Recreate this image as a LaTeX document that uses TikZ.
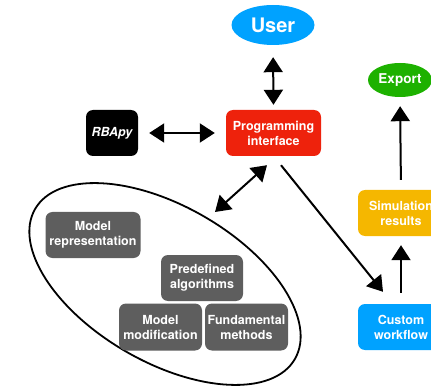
\documentclass[tikz,border=0pt]{standalone}
\usepackage{fontspec}
\setmainfont{TeX Gyre Heros}
\usetikzlibrary{arrows.meta,positioning,shapes.geometric}
\definecolor{userblue}{HTML}{00A2FF}
\definecolor{exportgreen}{HTML}{1DB100}
\definecolor{apired}{HTML}{EE220C}
\definecolor{simyellow}{HTML}{F5B700}
\definecolor{modgray}{HTML}{5E5E5E}

\begin{document}
\begin{tikzpicture}[x=1pt, y=1pt,
    box/.style={rounded corners=7pt, text=white, align=center, inner sep=1pt,
      minimum height=46pt, font=\bfseries\fontsize{12.5}{15}\selectfont},
    modbox/.style={box, fill=modgray},
    blob/.style={ellipse, text=white, inner sep=0pt},
    link/.style={line width=2pt, -{Triangle[length=15pt,width=19pt]}},
    both/.style={line width=2pt,
      {Triangle[length=15pt,width=19pt]}-{Triangle[length=15pt,width=19pt]}}]
      \clip (0,0) rectangle (431,386);

      \node[blob, fill=userblue, minimum width=83pt, minimum height=40pt,
        font=\bfseries\fontsize{20}{24}\selectfont] (user) at (273,361) {User};
      \node[box, fill=apired, minimum width=95pt] (api) at (273.5,253) {Programming\\interface};
      \node[box, fill=black, minimum width=52pt, font=\bfseries\itshape\fontsize{12.5}{15}\selectfont]
        (rbapy) at (112,253) {RBApy};

      \node[blob, fill=exportgreen, minimum width=64pt, minimum height=34pt,
        font=\bfseries\fontsize{13.5}{16}\selectfont] (export) at (400,306) {Export};
      \node[box, fill=simyellow, minimum width=86pt] (sim) at (401,173) {Simulation\\results};
      \node[box, fill=userblue, minimum width=86pt] (custom) at (401,59) {Custom\\workflow};

      % library part
      \node[draw, ellipse, line width=1.8pt, rotate=-30, minimum width=300pt,
        minimum height=156pt] (lib) at (165,102) {};
      \node[modbox, minimum width=95pt] (modrep) at (93,151) {Model\\representation};
      \node[modbox, minimum width=82pt] (algo) at (202,108) {Predefined\\algorithms};
      \node[modbox, minimum width=83pt, minimum height=47pt] (modmod) at (160.5,59) {Model\\modification};
      \node[modbox, minimum width=83pt, minimum height=47pt] (fund) at (246.5,59) {Fundamental\\methods};

      \draw[both, shorten <=12pt, shorten >=5pt] (user.south) -- (api.north);
      \draw[both, shorten <=11pt, shorten >=11pt] (rbapy.east) -- (api.west);
      \draw[both] ([shift={(-6.5pt,-9pt)}]api.south) -- ([shift={(50pt,72pt)}]lib.center);
      \draw[link] ([shift={(7.5pt,-9pt)}]api.south) -- ([shift={(-18pt,12pt)}]custom.north);
      \draw[link, shorten <=11pt, shorten >=9pt] (custom.north) -- (sim.south);
      \draw[link, shorten <=10pt, shorten >=9pt] (sim.north) -- (export.south);
\end{tikzpicture}
\end{document}
